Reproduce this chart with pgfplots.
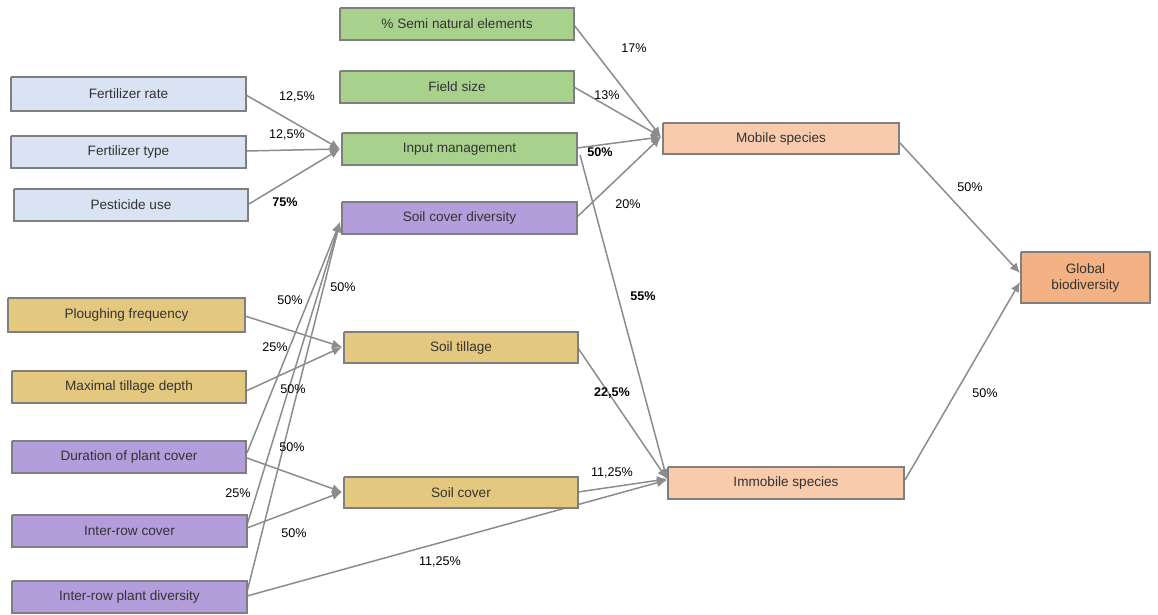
\documentclass[border=0pt]{standalone}
\usepackage{pgfplots}
\pgfplotsset{compat=1.18}
\usepackage{fontspec}
\setmainfont{Liberation Sans}
\usetikzlibrary{arrows.meta,calc}
\definecolor{cblue}{HTML}{DAE3F3}
\definecolor{cgreen}{HTML}{A9D18E}
\definecolor{cpurple}{HTML}{B39DDB}
\definecolor{ctan}{HTML}{E5C87F}
\definecolor{cpeach}{HTML}{F8CBAD}
\definecolor{cglobal}{HTML}{F4B183}
\definecolor{boxline}{HTML}{7F7F7F}
\definecolor{arr}{HTML}{8C8C8C}
\definecolor{txt}{HTML}{333333}
\newcommand{\boxfont}{\fontsize{6.8}{8}\selectfont}
\newcommand{\lblfont}{\fontsize{6.3}{7.5}\selectfont}
\newcommand{\mybox}[6]{%
  \addplot[draw=boxline, fill=#5, line width=0.6pt, line join=miter] coordinates {(#1,#2) (#3,#2) (#3,#4) (#1,#4) (#1,#2)};
  \node[font=\boxfont, text=txt, align=center] at ($(axis cs:#1,#2)!0.5!(axis cs:#3,#4)$) {#6};
}
\newcommand{\myarrow}[4]{%
  \addplot[draw=arr, line width=0.75pt, -{Latex[length=5pt,width=4.5pt]}] coordinates {(#1,#2) (#3,#4)};
}
\newcommand{\lbl}[3]{%
  \node[font=\lblfont, text=black] at (axis cs:#1,#2) {#3};
}
\begin{document}
\begin{tikzpicture}
\begin{axis}[
  width=579pt, height=307.5pt, scale only axis,
  xmin=0, xmax=1158, ymin=0, ymax=615, y dir=reverse,
  hide axis, clip=false,
]
\addplot[draw=none] coordinates {(0,0) (1158,615)};
% arrows
\myarrow{246}{95}{340}{149}
\myarrow{246}{151}{340}{149}
\myarrow{249}{204}{340}{149}
\myarrow{574}{25}{661}{137}
\myarrow{574}{87}{661}{137}
\myarrow{577}{148}{661}{137}
\myarrow{577}{217}{661}{137}
\myarrow{580}{155}{667}{479}
\myarrow{578}{348}{667}{479}
\myarrow{578}{492}{667}{479}
\myarrow{247}{596}{667}{480}
\myarrow{900}{143}{1020}{273}
\myarrow{905}{480}{1020}{282}
\myarrow{245}{316}{342}{347}
\myarrow{246}{391}{342}{347}
\myarrow{247}{453}{340}{222}
\myarrow{247}{525}{340}{222}
\myarrow{247}{592}{340}{222}
\myarrow{247}{458}{342}{492}
\myarrow{247}{528}{342}{492}
% boxes
\mybox{11}{77}{246}{111}{cblue}{Fertilizer rate}
\mybox{11}{136}{246}{168}{cblue}{Fertilizer type}
\mybox{14}{189}{248}{221}{cblue}{Pesticide use}
\mybox{8}{298}{245}{332}{ctan}{Ploughing frequency}
\mybox{12}{371}{246}{403}{ctan}{Maximal tillage depth}
\mybox{12}{441}{246}{473}{cpurple}{Duration of plant cover}
\mybox{12}{515}{247}{547}{cpurple}{Inter-row cover}
\mybox{12}{581}{247}{613}{cpurple}{Inter-row plant diversity}
\mybox{340}{8}{574}{40}{cgreen}{\% Semi natural elements}
\mybox{340}{71}{574}{103}{cgreen}{Field size}
\mybox{342}{133}{577}{165}{cgreen}{Input management}
\mybox{342}{202}{577}{234}{cpurple}{Soil cover diversity}
\mybox{344}{332}{578}{363}{ctan}{Soil tillage}
\mybox{344}{477}{578}{508}{ctan}{Soil cover}
\mybox{663}{123}{899}{154}{cpeach}{Mobile species}
\mybox{668}{467}{904}{499}{cpeach}{Immobile species}
\mybox{1021}{252}{1150}{303}{cglobal}{Global\\biodiversity}
% labels
\lbl{297}{97}{12,5\%}
\lbl{287}{135}{12,5\%}
\lbl{285}{202}{\textbf{75\%}}
\lbl{634}{48}{17\%}
\lbl{607}{95}{13\%}
\lbl{600}{152}{\textbf{50\%}}
\lbl{628}{204}{20\%}
\lbl{643}{296}{\textbf{55\%}}
\lbl{612}{393}{\textbf{22,5\%}}
\lbl{612}{473}{11,25\%}
\lbl{440}{562}{11,25\%}
\lbl{970}{187}{50\%}
\lbl{985}{393}{50\%}
\lbl{290}{300}{50\%}
\lbl{343}{287}{50\%}
\lbl{275}{347}{25\%}
\lbl{293}{389}{50\%}
\lbl{292}{447}{50\%}
\lbl{238}{493}{25\%}
\lbl{294}{533}{50\%}
\end{axis}
\end{tikzpicture}
\end{document}
